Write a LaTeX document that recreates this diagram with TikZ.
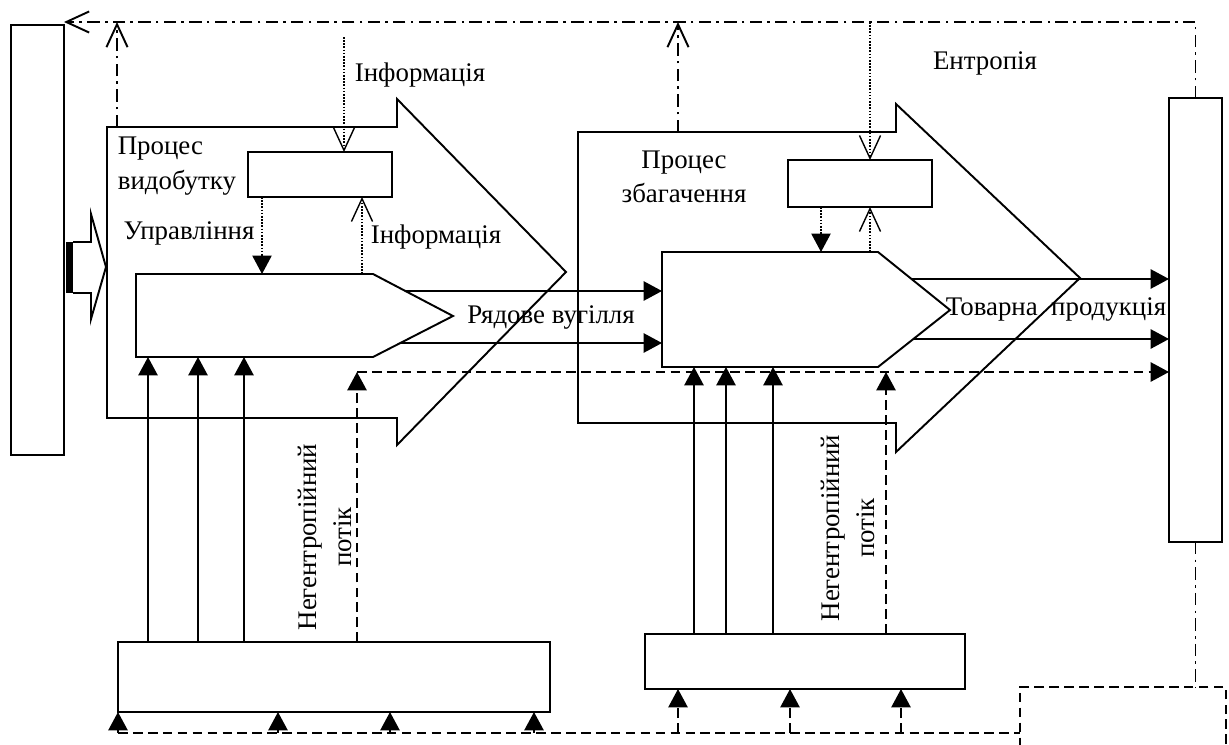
\documentclass[tikz,border=0pt]{standalone}
\usepackage{fontspec}
\setmainfont{Liberation Serif}
\usetikzlibrary{arrows.meta,calc}
\newdimen\pxu
\pxu=0.02cm

\begin{document}
\begin{tikzpicture}[x=0.02cm, y=-0.02cm, line width=1.1pt, font=\fontsize{15.3}{19.5}\selectfont,
	box/.style={draw, inner sep=0pt, outer sep=0pt, anchor=north west},
	flow/.style={-{Triangle[length=10.5pt, width=11pt]}},
	barb/.style={-{Straight Barb[length=13pt, width=12pt]}},
	dotline/.style={dash pattern=on 0.9pt off 0.9pt, line width=0.8pt},
	dashline/.style={dash pattern=on 5.5pt off 3pt},
	dashdot/.style={dash pattern=on 7pt off 3pt on 1.5pt off 3pt}]
	\useasboundingbox (0,0) rectangle (1229,744);
	\node[box, minimum width=53\pxu, minimum height=430\pxu] (src) at (11,25) {};
	\node[box, minimum width=53\pxu, minimum height=444\pxu] (mkt) at (1169,98) {};
	\node[box, minimum width=144\pxu, minimum height=45\pxu] (ctlA) at (248,152) {};
	\node[box, minimum width=144\pxu, minimum height=47\pxu] (ctlB) at (788,160) {};
	\node[box, minimum width=432\pxu, minimum height=70\pxu] (resA) at (118,642) {};
	\node[box, minimum width=320\pxu, minimum height=55\pxu] (resB) at (645,634) {};
	\node[box, dashline, minimum width=206\pxu, minimum height=90\pxu] (env) at (1020,687) {};
	\coordinate (top) at (0,22);
	\coordinate (base) at (0,733);
	\coordinate (nl) at (0,372);

	\draw (107,127) -- (397,127) -- (397,99) -- (566,272) -- (397,445) -- (397,418) -- (107,418) -- cycle;
	\draw (578,132) -- (896,132) -- (896,104) -- (1080,278) -- (896,452) -- (896,423) -- (578,423) -- cycle;
	\draw (136,274) coordinate (pA) -- (373,274) -- (453,316) -- (373,357) -- (136,357) coordinate (pAb) -- cycle;
	\draw (662,252) coordinate (pB) -- (878,252) -- (950,310) -- (878,367) -- (662,367) coordinate (pBb) -- cycle;
	\fill (66,242) rectangle (73,293);
	\draw (73,242) -- (91,242) -- (91,214) -- (106,267) -- (91,319) -- (91,293) -- (73,293);

	\foreach \n/\x in {eA/117, eB/678, iA/344, iB/870, uA/262, fA/362, uB/821, fB/870, nA/357, nB/886}
		\coordinate (\n) at (\x,0);
	\draw[dashdot, barb] (eA |- 0,127) -- (eA |- top);
	\draw[dashdot, barb] (eB |- 0,132) -- (eB |- top);
	\draw[dashdot, barb] (mkt.north) |- (src.east |- top);
	\draw[dashdot] (mkt.south) -- (mkt.south |- env.north);

	\draw[dotline, barb] (iA |- 0,37) -- (iA |- ctlA.north);
	\draw[dotline, barb] (iB |- top) -- (iB |- ctlB.north);
	\draw[dotline, flow] (uA |- ctlA.south) -- (uA |- pA);
	\draw[dotline, barb] (fA |- pA) -- (fA |- ctlA.south);
	\draw[dotline, flow] (uB |- ctlB.south) -- (uB |- pB);
	\draw[dotline, barb] (fB |- pB) -- (fB |- ctlB.south);

	\coordinate (rA1) at (405,291);
	\coordinate (rA2) at (401,343);
	\coordinate (tB1) at (911,279);
	\coordinate (tB2) at (913,339);
	\draw[flow] (rA1) -- (rA1 -| pB);
	\draw[flow] (rA2) -- (rA2 -| pB);
	\draw[flow] (tB1) -- (tB1 -| mkt.west);
	\draw[flow] (tB2) -- (tB2 -| mkt.west);

	\foreach \d in {30,80,126} {
		\path ([xshift=\d\pxu]resA.north west) coordinate (s);
		\draw[flow] (s) -- (s |- pAb);
	}
	\foreach \d in {49,81,128} {
		\path ([xshift=\d\pxu]resB.north west) coordinate (s);
		\draw[flow] (s) -- (s |- pBb);
	}
	\draw[dashline, flow] (nA |- resA.north) -- (nA |- nl);
	\draw[dashline, flow] (nA |- nl) -- (mkt.west |- nl);
	\draw[dashline, flow] (nB |- resB.north) -- (nB |- nl);

	\draw[dashline] (resA.south west |- base) -- (env.west |- base);
	\foreach \d in {0,160,272,416} {
		\path ([xshift=\d\pxu]resA.south west) coordinate (q);
		\draw[dashline, flow] (q |- base) -- (q);
	}
	\foreach \d in {33,145,256} {
		\path ([xshift=\d\pxu]resB.south west) coordinate (q);
		\draw[dashline, flow] (q |- base) -- (q);
	}

	\node (infoA) at (420,75) {Інформація};
	\node[align=left, anchor=west] (procA) at (111,166) {Процес\\видобутку};
	\node (ctrlA) at (189,233) {Управління};
	\node (infoA2) at (436,237) {Інформація};
	\node (coal) at (551,317) {Рядове вугілля};
	\node[align=center] (procB) at (684,177) {Процес\\збагачення};
	\node (entr) at (985,63) {Ентропія};
	\node (prod) at (1056,309) {Товарна\ \ продукція};
	\node[rotate=90, align=center] (negA) at (325,537) {Негентропійний\\потік};
	\node[rotate=90, align=center] (negB) at (848,528) {Негентропійний\\потік};
\end{tikzpicture}
\end{document}
